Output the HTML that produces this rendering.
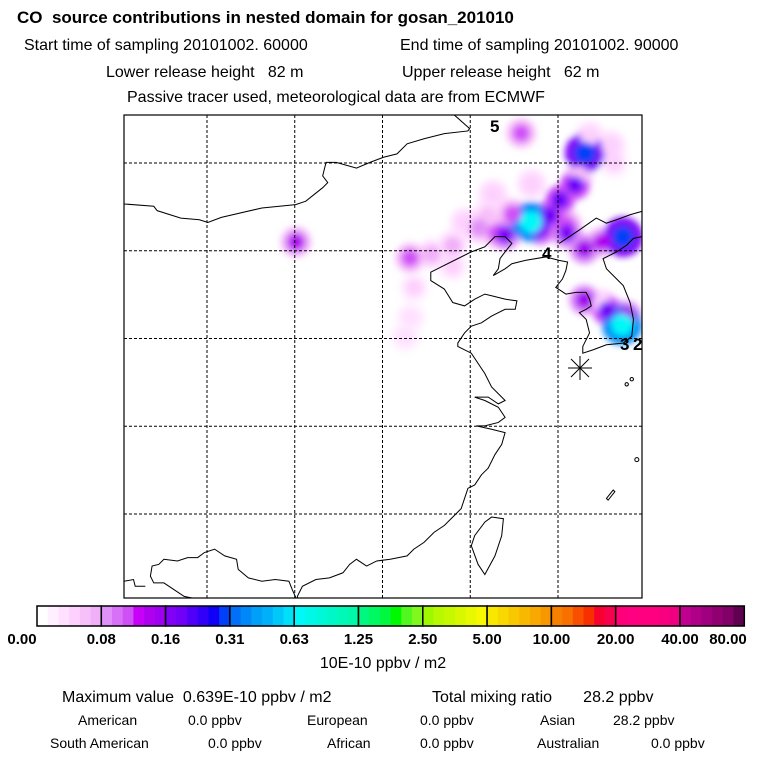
<!DOCTYPE html>
<html><head><meta charset="utf-8"><style>
body{margin:0;background:#fff;width:768px;height:768px;overflow:hidden;font-family:"Liberation Sans",sans-serif}
svg{position:absolute;left:0;top:0}
text{white-space:pre}
</style></head><body>
<svg width="768" height="768" viewBox="0 0 768 768">
<defs><filter id="bl" x="-50%" y="-50%" width="200%" height="200%"><feGaussianBlur stdDeviation="3.5"/></filter>
<clipPath id="mapclip"><rect x="124" y="115" width="518" height="483"/></clipPath></defs>
<g font-family="Liberation Sans, sans-serif" fill="#000">
<text x="17" y="23" font-size="17" font-weight="bold">CO  source contributions in nested domain for gosan_201010</text>
<text x="24" y="50" font-size="16">Start time of sampling 20101002. 60000</text>
<text x="400" y="50" font-size="16">End time of sampling 20101002. 90000</text>
<text x="106" y="77" font-size="16">Lower release height   82 m</text>
<text x="402" y="77" font-size="16">Upper release height   62 m</text>
<text x="127" y="102" font-size="16">Passive tracer used, meteorological data are from ECMWF</text>
</g>
<g id="map" clip-path="url(#mapclip)">
<g id="plume" filter="url(#bl)"></g>
<g id="grid"></g>
<g transform="translate(120,110) scale(0.3378)" fill="none" stroke="#000" stroke-width="3">
<polyline points="10,278 100,285 110,298 180,320 235,325 260,333 300,318 420,290 520,280 550,270 600,230 615,215 600,195 610,155 640,155 700,172 740,155 780,140 820,130 850,100 900,85 960,70 1030,62 1035,55 990,15"/>
<polyline points="1040,420 1080,405 1110,375 1140,375 1160,395 1140,420 1125,440 1120,470 1105,490 1140,470 1160,455 1200,445 1260,435 1300,445 1325,450 1320,475 1310,500 1290,525 1305,535 1320,545 1350,540 1380,540 1390,560 1395,580 1380,590 1360,600 1380,620 1390,660 1370,700 1370,720 1400,710 1440,695 1490,690 1515,670 1520,620 1510,570 1490,520 1470,500 1440,470 1430,440 1470,420 1500,400 1520,380 1545,375"/>
<polyline points="1300,395 1360,355 1410,320 1440,335 1470,325 1510,310 1545,300"/>
<polyline points="1040,420 1000,440 950,465 920,480 920,505 960,530 985,570 1020,580 1050,560 1080,545 1100,550 1140,560 1175,565 1170,590 1140,590 1100,610 1070,630 1040,640 1020,660 1000,690 1000,700 1040,720 1060,750 1080,780 1100,820 1140,860 1120,870 1090,850 1050,850 1080,860 1120,880 1140,910 1120,925 1080,935 1055,935 1100,945 1140,955 1130,990 1110,1020 1090,1060 1070,1080 1050,1110 1030,1120 1020,1150 1010,1180 990,1200 960,1230 930,1250 900,1280 870,1300 850,1320 800,1330 760,1335 730,1350 700,1330 680,1345 660,1370 620,1385 580,1390 540,1410 525,1440 530,1465"/>
<polyline points="530,1465 510,1420 500,1395 460,1390 420,1395 380,1385 350,1360 345,1330 310,1320 280,1300 250,1310 230,1325 200,1325 170,1335 130,1330 115,1345 95,1350 90,1380 100,1400 130,1400 160,1420 190,1440 240,1450 250,1465"/>
<polyline points="12,1395 40,1390 45,1410 75,1410"/>
<polygon points="1100,1205 1135,1210 1130,1260 1110,1320 1080,1375 1060,1345 1040,1290 1050,1260 1080,1220"/>
<polygon points="1440,1150 1460,1125 1465,1130 1445,1155"/>
<circle cx="1500" cy="812" r="5"/><circle cx="1515" cy="797" r="5"/><circle cx="1530" cy="1035" r="6"/>
</g>
<g font-family="Liberation Sans, sans-serif" font-weight="bold" font-size="17">
<text x="490" y="132">5</text><text x="542" y="259">4</text><text x="620" y="350">3</text><text x="633" y="350">2</text>
</g>
<g stroke="#000" stroke-width="1">
<line x1="568" y1="368" x2="592" y2="368"/><line x1="580" y1="356" x2="580" y2="380"/>
<line x1="571" y1="359" x2="589" y2="377"/><line x1="589" y1="359" x2="571" y2="377"/>
</g>
</g>
<rect x="124" y="115" width="518" height="483" fill="none" stroke="#000" stroke-width="1.2"/>
<g id="cbar"></g>
<g font-family="Liberation Sans, sans-serif" fill="#000">
<text x="383" y="668" font-size="16" text-anchor="middle">10E-10 ppbv / m2</text>
<text x="62" y="702" font-size="16">Maximum value  0.639E-10 ppbv / m2</text>
<text x="432" y="702" font-size="16">Total mixing ratio       28.2 ppbv</text>
<g font-size="14">
<text x="78" y="725">American</text><text x="188" y="725">0.0 ppbv</text>
<text x="307" y="725">European</text><text x="420" y="725">0.0 ppbv</text>
<text x="540" y="725">Asian</text><text x="613" y="725">28.2 ppbv</text>
<text x="50" y="748">South American</text><text x="208" y="748">0.0 ppbv</text>
<text x="327" y="748">African</text><text x="420" y="748">0.0 ppbv</text>
<text x="537" y="748">Australian</text><text x="651" y="748">0.0 ppbv</text>
</g></g>
</svg>
<script>
const NS="http://www.w3.org/2000/svg";
const cbLabels=["0.00","0.08","0.16","0.31","0.63","1.25","2.50","5.00","10.00","20.00","40.00","80.00"];
const cbColors=[
["#ffffff","#fff0ff","#ffe0ff","#fdd0fd","#f8c0f8","#f0b0f8"],
["#e090f8","#d870f8","#d050f8","#c800f8","#b000f0","#a000f0"],
["#8000f8","#7000f8","#5000f8","#3000f8","#1000f8","#0040f8"],
["#0070f8","#0088f8","#00a0f8","#00b0f8","#00c8f8","#00e0f8"],
["#00f8f8","#00f8e8","#00f8d8","#00f8c8","#00f8b8","#00f8a8"],
["#00f880","#00f860","#00f840","#00f800","#50f820","#80f820"],
["#a0f800","#b8f800","#c8f800","#d8f800","#e8f800","#f8f800"],
["#f8e800","#f8d800","#f8c800","#f8b800","#f8a800","#f89800"],
["#f88000","#f87000","#f85000","#f83000","#f80030","#f80050"],
["#ff0078","#ff0080","#ff0080","#ff0080","#f80080","#f00080"],
["#c00090","#b00088","#a00080","#900070","#800068","#600050"]];
const plumeLon=[128.46,133.65,131.54,133.70,115.07,121.57,130.11,130.97,129.0,131.5,127.4,126.5,124.0,131.5,127.9,131.8,133.0,126.3,128.5,131.2,124.7,121.8,121.6,121.3,132.5,124.0,130.5,133.2,129.5,130.5,132.5,125.5,122.8,127.0,126.0,132.8,133.9];
const plumeLat=[41.64,35.77,45.57,40.78,40.50,39.59,42.89,43.75,41.2,40.1,42.1,41.0,40.3,37.2,46.7,46.5,46.0,43.2,43.8,44.3,41.6,37.9,36.2,35.1,37.0,39.1,41.5,45.0,42.0,41.0,40.5,41.3,39.8,40.9,42.0,36.6,36.3];
const plumeVal=[0.70,0.70,0.30,0.30,0.14,0.12,0.20,0.20,0.18,0.15,0.12,0.11,0.07,0.15,0.12,0.05,0.05,0.05,0.05,0.06,0.05,0.04,0.03,0.03,0.05,0.04,0.12,0.04,0.2,0.16,0.14,0.08,0.07,0.16,0.06,0.2,0.15];
const lonTicks=[110,115,120,125,130];
const latTicks=[45,40,35,30,25];
function x(lon){return 207+(lon-110)*17.55;}
function y(lat){return 163+(45-lat)*17.55;}
function col(v){
 const lv=[0,0.08,0.16,0.31,0.63,1.25,2.5,5,10,20,40,80];
 for(let i=0;i<11;i++){if(v<lv[i+1]){const f=(v-lv[i])/(lv[i+1]-lv[i]);return cbColors[i][Math.min(5,Math.floor(f*6))];}}
 return cbColors[10][5];
}
const plume=document.getElementById('plume');
const idx=plumeVal.map((v,i)=>i).sort((a,b)=>plumeVal[a]-plumeVal[b]);
idx.forEach(i=>{
 const v=plumeVal[i];
 const halo=document.createElementNS(NS,'circle');
 halo.setAttribute('cx',x(plumeLon[i]));halo.setAttribute('cy',y(plumeLat[i]));
 halo.setAttribute('r',v>0.25?20:15);halo.setAttribute('fill',col(v*0.55));
 
 
 plume.appendChild(halo);
});
idx.forEach(i=>{
 const v=plumeVal[i];
 const c=document.createElementNS(NS,'circle');
 c.setAttribute('cx',x(plumeLon[i]));c.setAttribute('cy',y(plumeLat[i]));
 c.setAttribute('r',v>0.25?11:9);c.setAttribute('fill',col(v));
 
 
 plume.appendChild(c);
});
const grid=document.getElementById('grid');
lonTicks.forEach(l=>{const ln=document.createElementNS(NS,'line');
 ln.setAttribute('x1',x(l));ln.setAttribute('x2',x(l));ln.setAttribute('y1',115);ln.setAttribute('y2',598);
 ln.setAttribute('stroke','#000');ln.setAttribute('stroke-dasharray','3,2');
 
 
 grid.appendChild(ln);});
latTicks.forEach(l=>{const ln=document.createElementNS(NS,'line');
 ln.setAttribute('y1',y(l));ln.setAttribute('y2',y(l));ln.setAttribute('x1',124);ln.setAttribute('x2',642);
 ln.setAttribute('stroke','#000');ln.setAttribute('stroke-dasharray','3,2');
 
 
 grid.appendChild(ln);});
const cb=document.getElementById('cbar');
const cx0=37,segW=64.3,cy0=606,ch=20;
cbColors.forEach((seg,i)=>{
 seg.forEach((c,j)=>{const r=document.createElementNS(NS,'rect');
  r.setAttribute('x',cx0+i*segW+j*segW/6);r.setAttribute('y',cy0);r.setAttribute('width',segW/6+0.5);r.setAttribute('height',ch);r.setAttribute('fill',c);
  
  
  cb.appendChild(r);});
 const b=document.createElementNS(NS,'rect');
 b.setAttribute('x',cx0+i*segW);b.setAttribute('y',cy0);b.setAttribute('width',segW);b.setAttribute('height',ch);
 b.setAttribute('fill','none');b.setAttribute('stroke','#000');b.setAttribute('stroke-width','1.5');
 
 
 cb.appendChild(b);
});
cbLabels.forEach((t,i)=>{const tx=document.createElementNS(NS,'text');
 let px=cx0+i*segW; if(i===0)px=22; if(i===11)px=728;
 tx.setAttribute('x',px);tx.setAttribute('y',644);tx.setAttribute('text-anchor','middle');
 tx.setAttribute('font-size','15');tx.setAttribute('font-weight','bold');tx.setAttribute('font-family','Liberation Sans, sans-serif');
 tx.textContent=t;
 
 
 cb.appendChild(tx);});
</script>
</body></html>
